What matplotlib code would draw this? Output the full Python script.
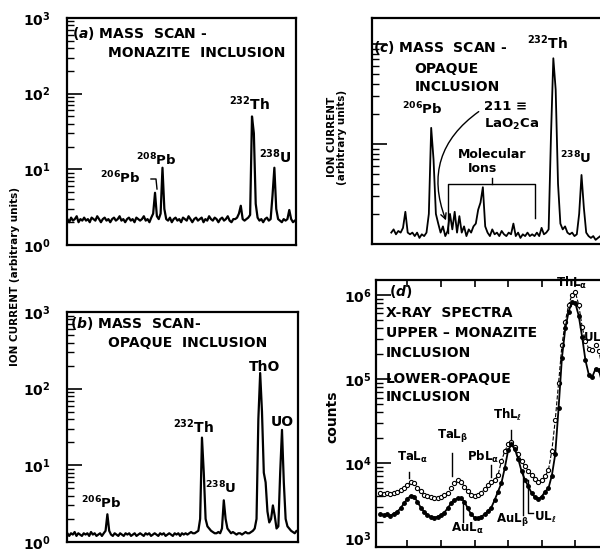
import numpy as np
import matplotlib
matplotlib.use('Agg')
import matplotlib.pyplot as plt
from matplotlib.lines import Line2D
from matplotlib.transforms import ScaledTranslation
from matplotlib.ticker import LogLocator, NullFormatter, MultipleLocator, NullLocator

plt.rcParams['font.family'] = 'DejaVu Sans'
plt.rcParams['font.weight'] = 'bold'
plt.rcParams['mathtext.default'] = 'bf'

# (a) mass scan, monazite inclusion -- 0.5 amu channels, 182.5 .. 244
mass_a = np.arange(365, 489) / 2
ion_a = [2.2, 2.0, 2.3, 2.1, 2.2, 2.4, 2.0, 2.2, 2.1, 2.3,
         2.1, 2.2, 2.0, 2.3, 2.2, 2.1, 2.4, 2.2, 2.0, 2.2,
         2.3, 2.1, 2.2, 2.0, 2.2, 2.3, 2.1, 2.2, 2.4, 2.1,
         2.2, 2.0, 2.2, 2.3, 2.1, 2.2, 2.0, 2.3, 2.2, 2.1,
         2.2, 2.4, 2.1, 2.2, 2.0, 2.3, 2.6, 4.9, 2.4, 2.2,
         2.6, 10.5, 3.0, 2.2, 2.1, 2.3, 2.0, 2.2, 2.3, 2.1,
         2.2, 2.0, 2.3, 2.2, 2.1, 2.4, 2.2, 2.0, 2.2, 2.3,
         2.1, 2.2, 2.3, 2.0, 2.2, 2.1, 2.4, 2.2, 2.1, 2.3,
         2.2, 2.0, 2.2, 2.3, 2.1, 2.2, 2.4, 2.1, 2.0, 2.2,
         2.2, 2.3, 2.6, 3.3, 2.2, 2.1, 2.2, 2.3, 2.5, 50,
         30, 3.5, 2.3, 2.1, 2.2, 2.0, 2.2, 2.3, 2.1, 2.2,
         4.5, 10.5, 3.0, 2.2, 2.1, 2.0, 2.2, 2.1, 2.2, 2.9,
         2.2, 2.0, 2.1, 2.2]

# (b) mass scan, opaque inclusion -- 195 .. 258.5
mass_b = np.arange(390, 518) / 2
ion_b = [1.3, 1.2, 1.3, 1.25, 1.35, 1.2, 1.3, 1.25, 1.2, 1.3,
         1.25, 1.3, 1.2, 1.35, 1.25, 1.3, 1.2, 1.25, 1.3, 1.2,
         1.3, 1.4, 2.3, 1.4, 1.25, 1.2, 1.3, 1.25, 1.2, 1.3,
         1.25, 1.2, 1.3, 1.25, 1.3, 1.2, 1.25, 1.3, 1.2, 1.25,
         1.3, 1.25, 1.2, 1.3, 1.25, 1.3, 1.2, 1.25, 1.3, 1.25,
         1.2, 1.3, 1.25, 1.3, 1.2, 1.25, 1.3, 1.25, 1.2, 1.3,
         1.25, 1.3, 1.2, 1.3, 1.25, 1.3, 1.25, 1.3, 1.35, 1.3,
         1.3, 1.35, 1.4, 2.0, 23, 8, 2.0, 1.6, 1.5, 1.4,
         1.35, 1.3, 1.3, 1.35, 1.3, 1.5, 3.5, 2.0, 1.5, 1.4,
         1.3, 1.35, 1.3, 1.25, 1.3, 1.3, 1.25, 1.3, 1.35, 1.3,
         1.3, 1.35, 1.4, 1.5, 2.0, 40, 160, 50, 8, 6,
         2.5, 1.8, 2.0, 3.0, 2.2, 1.5, 1.6, 8, 29, 6,
         2.0, 1.6, 1.5, 1.4, 1.35, 1.3, 1.4, 1.35]

# (c) mass scan, opaque inclusion -- 197.5 .. 243
mass_c = np.arange(395, 487) / 2
ion_c = [1.3, 1.4, 1.25, 1.35, 1.3, 1.45, 2.1, 1.3, 1.25, 1.3,
         1.2, 1.3, 1.15, 1.25, 1.2, 1.3, 2.0, 14.5, 7.0, 2.0,
         1.6, 1.3, 1.5, 1.2, 1.35, 2.0, 1.4, 2.1, 1.3, 1.9,
         1.3, 1.5, 1.2, 1.4, 1.3, 1.5, 1.6, 2.2, 2.6, 3.7,
         1.5, 1.3, 1.2, 1.4, 1.25, 1.3, 1.2, 1.35, 1.25, 1.2,
         1.3, 1.25, 1.6, 1.2, 1.3, 1.15, 1.25, 1.2, 1.3, 1.2,
         1.25, 1.2, 1.3, 1.2, 1.45, 1.25, 1.3, 1.4, 12, 72,
         35, 4, 1.6, 1.4, 1.5, 1.3, 1.25, 1.3, 1.2, 1.25,
         2.0, 4.9, 2.3, 1.3, 1.2, 1.15, 1.2, 1.1, 1.15, 1.2,
         1.1, 1.15]

# (d) x-ray spectra, 0.1 keV steps, 7.2 .. 13.9 keV
energy_d = np.arange(72, 140) / 10
upper_d = [4400, 4300, 4400, 4300, 4400, 4500, 4700, 5000, 5500, 5900,
           5800, 5100, 4600, 4200, 4000, 3900, 3800, 3800, 3900, 4100,
           4400, 5000, 5800, 6200, 6000, 5200, 4600, 4100, 4000, 4100,
           4400, 4900, 5500, 6000, 6300, 7200, 10500, 13800, 16600, 17800,
           15500, 12600, 10500, 9100, 8100, 7200, 6500, 6000, 6200, 6900,
           8300, 14000, 32000, 89000, 251000, 479000, 759000, 1000000, 1070000, 760000,
           417000, 282000, 229000, 219000, 251000, 214000, 132000, 89000]
lower_d = [2500, 2400, 2450, 2350, 2500, 2630, 2880, 3310, 3720, 4070,
           3980, 3470, 2950, 2630, 2400, 2290, 2240, 2290, 2400, 2570,
           2880, 3310, 3630, 3800, 3800, 3470, 2880, 2450, 2240, 2190,
           2290, 2450, 2690, 2950, 3630, 4570, 5750, 8710, 14100, 16600,
           14500, 11200, 7940, 6310, 5250, 4370, 3890, 3720, 3980, 4570,
           5010, 7080, 12600, 44700, 178000, 398000, 631000, 832000, 794000, 562000,
           316000, 166000, 112000, 105000, 132000, 126000, 89000, 63000]

W, H = 600.0, 555.0
fig = plt.figure(figsize=(6, 5.55), dpi=100)


def box(l, t, r, b):
    return [l / W, 1 - b / H, (r - l) / W, (b - t) / H]


def txt(x, y, s, size=10, **kw):
    opts = {'va': 'center', 'ha': 'left'}
    opts.update(kw)
    fig.text(x / W, 1 - y / H, s, fontsize=size, fontweight='bold', **opts)


def seg(xs, ys, lw=1.0):
    fig.add_artist(Line2D([x / W for x in xs], [1 - y / H for y in ys], color='k', lw=lw))


def style(ax, lo, hi, labels, pad):
    ax.set_yscale('log')
    ax.set_ylim(lo, hi)
    ax.yaxis.set_major_locator(LogLocator(base=10))
    ax.yaxis.set_minor_locator(LogLocator(base=10, subs=np.arange(2, 10)))
    ax.yaxis.set_minor_formatter(NullFormatter())
    if labels:
        ticks = [10 ** k for k in range(int(np.log10(lo)), int(np.log10(hi)) + 1)]
        ax.set_yticks(ticks, [r'$10^{%d}$' % int(np.log10(t)) for t in ticks])
    else:
        ax.yaxis.set_major_formatter(NullFormatter())
    ax.tick_params(axis='y', which='major', direction='in', length=11, width=1.2,
                   labelsize=10, pad=pad, left=True, right=False)
    ax.tick_params(axis='y', which='minor', direction='in', length=5, width=1)
    ax.xaxis.set_major_locator(NullLocator())
    ax.xaxis.set_minor_locator(NullLocator())
    for sp in ax.spines.values():
        sp.set_linewidth(1.6)


ax_a = fig.add_axes(box(67, 18, 296, 245))
ax_b = fig.add_axes(box(67, 312, 298, 542))
ax_c = fig.add_axes(box(372, 18, 605, 244))
ax_d = fig.add_axes(box(376, 280, 609, 547))

ax_a.plot(mass_a, ion_a, color='k', lw=1.6)
ax_a.set_xlim(182.4, 243.8)
style(ax_a, 1, 1000, True, 12)

ax_b.plot(mass_b, ion_b, color='k', lw=1.6)
ax_b.set_xlim(194.9, 258.4)
style(ax_b, 1, 1000, True, 12)

ax_c.plot(mass_c, ion_c, color='k', lw=1.3)
ax_c.set_xlim(193.4, 243.0)
style(ax_c, 1, 182, False, 4)

ax_d.plot(energy_d, upper_d, color='k', lw=0.8, ls='--', marker='o', ms=3,
          mfc='white', mec='k', mew=0.8)
ax_d.plot(energy_d, lower_d, color='k', lw=1.3, ls='-', marker='o', ms=2.5,
          mfc='k', mec='k')
ax_d.set_xlim(7.07, 14.0)
style(ax_d, 1000, 1.5e6, True, 3)
ax_d.xaxis.set_major_locator(MultipleLocator(1))
ax_d.xaxis.set_major_formatter(NullFormatter())
ax_d.tick_params(axis='x', which='major', direction='in', length=5, width=1.2,
                 top=True, bottom=True)
# lowest label of (d) sits a little above its tick, as in the original
low = ax_d.get_yticklabels()[0]
low.set_transform(low.get_transform() + ScaledTranslation(0, 6 / 72, fig.dpi_scale_trans))

# axis titles
txt(15, 277, 'ION CURRENT (arbitrary units)', size=7.5, rotation=90, ha='center')
txt(337, 137, 'ION CURRENT\n(arbitrary units)', size=7.5, rotation=90, ha='center',
    linespacing=1.0, multialignment='center')
txt(332, 417, 'counts', size=10, rotation=90, ha='center')

# (a)
txt(72, 33, r'($\mathit{a}$) MASS  SCAN -', size=10)
txt(108, 53, 'MONAZITE  INCLUSION', size=10)
txt(229, 110, r'$^{232}$Th', size=10, va='baseline')
txt(259, 163, r'$^{238}$U', size=10, va='baseline')
txt(136, 165, r'$^{208}$Pb', size=9.5, va='baseline')
txt(100, 183, r'$^{206}$Pb', size=9.5, va='baseline')
seg([151, 156, 157], [179, 179, 189])

# (b)
txt(70, 323, r'($\mathit{b}$) MASS  SCAN-', size=10)
txt(108, 343, 'OPAQUE  INCLUSION', size=10)
txt(249, 367, 'ThO', size=10)
txt(271, 422, 'UO', size=10)
txt(173, 433, r'$^{232}$Th', size=10, va='baseline')
txt(205, 493, r'$^{238}$U', size=9.5, va='baseline')
txt(81, 508, r'$^{206}$Pb', size=9.5, va='baseline')

# (c)
txt(373, 48, r'($\mathit{c}$) MASS  SCAN -', size=10)
txt(527, 49, r'$^{232}$Th', size=10, va='baseline')
txt(414, 69, 'OPAQUE', size=10)
txt(415, 87, 'INCLUSION', size=10)
txt(402, 114, r'$^{206}$Pb', size=9.5, va='baseline')
txt(484, 106, '211 \u2261', size=9.5)
txt(484, 124, r'LaO$_{2}$Ca', size=9.5)
txt(458, 154, 'Molecular', size=9)
txt(468, 168, 'Ions', size=9)
txt(560, 163, r'$^{238}$U', size=9.5, va='baseline')
ax_c.annotate('', xy=(447, H - 223), xycoords='figure pixels',
              xytext=(481, H - 110), textcoords='figure pixels',
              arrowprops=dict(arrowstyle='->', connectionstyle='arc3,rad=0.4',
                              lw=1, color='k'))
seg([448, 448, 535, 535], [233, 184, 184, 218])
seg([492, 492], [184, 178])

# (d)
txt(389, 292, r'($\mathit{d}$)', size=10)
txt(386, 313, 'X-RAY  SPECTRA', size=10)
txt(386, 333, 'UPPER \u2013 MONAZITE', size=10)
txt(386, 353, 'INCLUSION', size=10)
txt(386, 379, 'LOWER-OPAQUE', size=10)
txt(386, 397, 'INCLUSION', size=10)
txt(397, 457, r'TaL$_{\alpha}$', size=8.5)
txt(437, 435, r'TaL$_{\beta}$', size=8.5)
txt(467, 457, r'PbL$_{\alpha}$', size=8.5)
txt(493, 415, r'ThL$_{\ell}$', size=8.5)
txt(451, 528, r'AuL$_{\alpha}$', size=8.5)
txt(496, 520, r'AuL$_{\beta}$', size=8.5)
txt(534, 517, r'UL$_{\ell}$', size=8.5)
txt(556, 283, r'ThL$_{\alpha}$', size=8.5)
txt(583, 338, r'UL$_{\alpha}$', size=8.5)
seg([409, 409], [472, 478])
seg([452, 452], [453, 476])
seg([491, 491], [465, 477])
seg([511, 511], [430, 440])
seg([463, 463], [503, 522])
seg([523, 523], [473, 515])
seg([528, 528, 533], [480, 513, 513])

fig.savefig('out.png', dpi=100)
